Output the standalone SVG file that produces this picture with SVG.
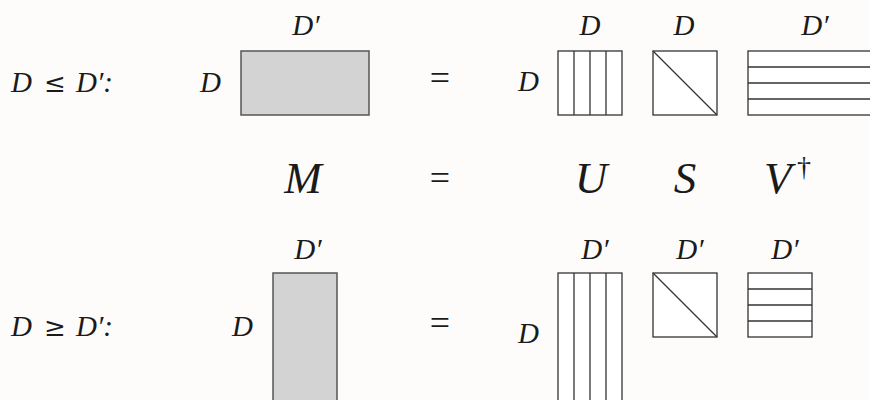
<svg xmlns="http://www.w3.org/2000/svg" width="870" height="400" viewBox="0 0 870 400">
<style>
.bg{fill:#fdfcfa}
.t{font-family:"Liberation Serif","DejaVu Serif",serif;font-style:italic;fill:#1a1a1a}
.lab{font-size:29px}
.big{font-size:45px}
.op{font-family:"Liberation Serif","DejaVu Serif",serif;font-style:normal;fill:#1a1a1a}
.rel{font-family:"DejaVu Serif",serif;font-style:normal;font-size:26px;fill:#1a1a1a}
.m{fill:#d3d3d3;stroke:#555;stroke-width:1.5}
.g{fill:#fff;stroke:#333;stroke-width:1.3}
.l{stroke:#333;stroke-width:1.3;fill:none}
</style>
<rect class="bg" x="0" y="0" width="870" height="400"/>

<g id="row1-condition">
<text class="t lab" x="11" y="92">D</text>
<text class="rel" x="44" y="92">≤</text>
<text class="t lab" x="76" y="92">D′:</text>
</g>
<g id="row1-M">
<rect class="m" x="241" y="51" width="128" height="64"/>
<text class="t lab" x="306" y="35" text-anchor="middle">D′</text>
<text class="t lab" x="200" y="92">D</text>
</g>
<g id="row1-eq"><text class="op" x="440" y="90" font-size="36" text-anchor="middle">=</text></g>
<g id="row1-U">
<rect class="g" x="558" y="51" width="64" height="64"/>
<path class="l" d="M574 51V115M590 51V115M606 51V115"/>
<text class="t lab" x="590" y="35" text-anchor="middle">D</text>
<text class="t lab" x="518" y="91">D</text>
</g>
<g id="row1-S">
<rect class="g" x="653" y="51" width="64" height="64"/>
<path class="l" d="M653 51L717 115"/>
<text class="t lab" x="684" y="35" text-anchor="middle">D</text>
</g>
<g id="row1-V">
<rect class="g" x="748" y="51" width="128" height="64"/>
<path class="l" d="M748 67H876M748 83H876M748 99H876"/>
<text class="t lab" x="815" y="35" text-anchor="middle">D′</text>
</g>

<g id="row2-labels">
<text class="t big" x="303" y="193" text-anchor="middle">M</text>
<text class="op" x="440" y="190" font-size="36" text-anchor="middle">=</text>
<text class="t big" x="591" y="193" text-anchor="middle">U</text>
<text class="t big" x="685" y="193" text-anchor="middle">S</text>
<text class="t big" x="764" y="193">V</text>
<text class="op" x="797" y="176" font-size="28">†</text>
</g>

<g id="row3-condition">
<text class="t lab" x="11" y="336">D</text>
<text class="rel" x="44" y="336">≥</text>
<text class="t lab" x="76" y="336">D′:</text>
</g>
<g id="row3-M">
<rect class="m" x="273" y="273" width="64" height="128"/>
<text class="t lab" x="308" y="259" text-anchor="middle">D′</text>
<text class="t lab" x="232" y="336">D</text>
</g>
<g id="row3-eq"><text class="op" x="440" y="335" font-size="36" text-anchor="middle">=</text></g>
<g id="row3-U">
<rect class="g" x="558" y="273" width="64" height="128"/>
<path class="l" d="M574 273V401M590 273V401M606 273V401"/>
<text class="t lab" x="595" y="259" text-anchor="middle">D′</text>
<text class="t lab" x="518" y="343">D</text>
</g>
<g id="row3-S">
<rect class="g" x="653" y="273" width="64" height="64"/>
<path class="l" d="M653 273L717 337"/>
<text class="t lab" x="690" y="259" text-anchor="middle">D′</text>
</g>
<g id="row3-V">
<rect class="g" x="748" y="273" width="64" height="64"/>
<path class="l" d="M748 289H812M748 305H812M748 321H812"/>
<text class="t lab" x="785" y="259" text-anchor="middle">D′</text>
</g>
</svg>
